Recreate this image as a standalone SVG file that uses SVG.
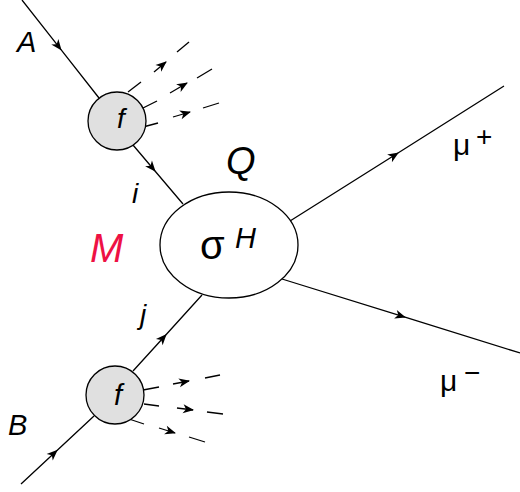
<svg xmlns="http://www.w3.org/2000/svg" width="520" height="492" viewBox="0 0 520 492">
<style>
.ln{fill:none;stroke:#000;stroke-width:1.3}
.nd{stroke:#000;stroke-width:1.3}
.t{font-family:"Liberation Sans",Arial,sans-serif;fill:#000}
.it{font-style:italic}
</style>
<defs>
<marker id="ar" viewBox="-12 -6 14 12" refX="0" refY="0" markerWidth="14" markerHeight="12" orient="auto" markerUnits="userSpaceOnUse">
<path d="M1,0 L-10,-4.5 L-7,0 L-10,4.5 Z" fill="#000"/>
</marker>
</defs>
<rect width="520" height="492" fill="#fff"/>
<g id="connectors">
<path class="ln" d="M22,0 L61,49.7 L99,98" marker-mid="url(#ar)"/>
<path class="ln" d="M133,145 L155,171 L183,204" marker-mid="url(#ar)"/>
<path class="ln" d="M21,484 L57,450.5 L94,416" marker-mid="url(#ar)"/>
<path class="ln" d="M133,371 L166,334.7 L202,295" marker-mid="url(#ar)"/>
<path class="ln" d="M290,221 L398,153 L504,86" marker-mid="url(#ar)"/>
<path class="ln" d="M282,279 L405,317.2 L520,353" marker-mid="url(#ar)"/>
<g id="jets-top">
<path class="ln" d="M128,92 L141,82"/><path class="ln" d="M154,72 L166,62" marker-end="url(#ar)"/><path class="ln" d="M177,52 L189,42"/>
<path class="ln" d="M143,108 L157,101"/><path class="ln" d="M170,93 L187,83" marker-end="url(#ar)"/><path class="ln" d="M197,78 L212,69"/>
<path class="ln" d="M143,127 L158,123"/><path class="ln" d="M173,117 L190,112" marker-end="url(#ar)"/><path class="ln" d="M203,108 L219,103"/>
</g>
<g id="jets-bottom">
<path class="ln" d="M143,390 L159,387"/><path class="ln" d="M173,384 L189,381" marker-end="url(#ar)"/><path class="ln" d="M205,378 L220,375"/>
<path class="ln" d="M144,404 L159,406"/><path class="ln" d="M177,408 L193,410" marker-end="url(#ar)"/><path class="ln" d="M207,412 L223,414"/>
<path class="ln" d="M129,419 L144,424"/><path class="ln" d="M159,428 L175,433" marker-end="url(#ar)"/><path class="ln" d="M189,437 L205,442"/>
</g>
</g>
<g id="f1">
<circle class="nd" cx="117" cy="121" r="29" fill="#e0e0e0"/>
<text class="t it" x="121" y="128" font-size="28" text-anchor="middle">f</text>
</g>
<g id="f2">
<circle class="nd" cx="115" cy="395" r="29" fill="#e0e0e0"/>
<text class="t it" x="118" y="405" font-size="29" text-anchor="middle">f</text>
</g>
<g id="sigma">
<ellipse class="nd" cx="229" cy="245" rx="69" ry="53" fill="#fff"/>
<text class="t" x="200" y="259" font-size="40">σ</text>
<text class="t it" x="235" y="248" font-size="29">H</text>
</g>
<g id="labels">
<text class="t it" x="17" y="52" font-size="29">A</text>
<text class="t it" x="8" y="435" font-size="29">B</text>
<text class="t it" x="132" y="203" font-size="28">i</text>
<text class="t it" x="140" y="324" font-size="28">j</text>
<text class="t it" x="226" y="174" font-size="38">Q</text>
<text class="t it" x="90" y="262" font-size="40" style="fill:#ee1144">M</text>
<text class="t" x="453" y="155" font-size="30">μ</text>
<text class="t" x="476" y="146" font-size="28">+</text>
<text class="t" x="440" y="391" font-size="30">μ</text>
<text class="t" x="464" y="382" font-size="28">−</text>
</g>
</svg>
